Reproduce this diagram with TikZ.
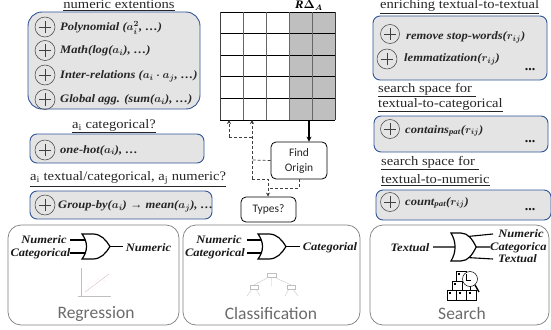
\documentclass[tikz,border=0pt]{standalone}
\usepackage{fontspec}
\setmainfont{Liberation Serif}
\newfontfamily\calfont{Carlito}
\newfontfamily\headfont[FakeStretch=1.12]{Liberation Serif}
\newfontfamily\opfont[FakeStretch=1.1]{Liberation Serif}
\usetikzlibrary{arrows.meta}
\definecolor{boxblue}{HTML}{2F5597}
\definecolor{boxgray}{HTML}{E4E4E4}
\definecolor{panelline}{HTML}{7F7F7F}
\definecolor{labelgray}{HTML}{6B6B6B}
\definecolor{headink}{HTML}{262626}
\newcommand{\mi}[1]{{\boldmath$#1$}}
\tikzset{
  x=1pt,y=-1pt,
  opbox/.style={draw=boxblue,line width=0.9pt,fill=boxgray,rounded corners=7pt,minimum width=0pt},
  bigbox/.style={draw=boxblue,line width=0.9pt,fill=boxgray,rounded corners=14pt},
  panel/.style={draw=panelline,line width=0.7pt,rounded corners=13pt},
  plus/.style={circle,draw=black!75,line width=0.5pt,fill=none,minimum size=#1,inner sep=0pt,path picture={
     \draw[black!75,line width=0.45pt] ([xshift=-0.62*#1/2]path picture bounding box.center)--([xshift=0.62*#1/2]path picture bounding box.center);
     \draw[black!75,line width=0.45pt] ([yshift=-0.62*#1/2]path picture bounding box.center)--([yshift=0.62*#1/2]path picture bounding box.center);}},
  optext/.style={anchor=west,inner sep=0pt,font=\opfont\fontsize{11.4}{12}\selectfont\bfseries\itshape,text=black!85},
  dotstext/.style={inner sep=0pt,font=\fontsize{14}{14}\selectfont\bfseries,text=black!90},
  headtext/.style={anchor=west,inner sep=0pt,font=\headfont\fontsize{13}{14}\selectfont,text=headink},
  gatetext/.style={inner sep=0pt,font=\opfont\fontsize{11.4}{12}\selectfont\bfseries\itshape,text=black!90},
  paneltitle/.style={inner sep=0pt,font=\calfont\fontsize{17.5}{20}\selectfont,text=labelgray},
  flowbox/.style={draw=black,line width=0.8pt,rounded corners=5pt,fill=white,align=center,inner sep=0pt,font=\calfont\fontsize{11.5}{15}\selectfont,text=black!85},
  solidflow/.style={draw=black,line width=1.5pt,-{Stealth[length=5pt,width=5pt]}},
  dashflow/.style={draw=black!75,line width=0.7pt,densely dashed},
  dasharrow/.style={dashflow,-{Stealth[length=4pt,width=4pt]}},
  wire/.style={draw=black,line width=1.1pt},
  faint/.style={draw=black!25,line width=0.3pt},
  orgate/.pic={
    \draw[black,line width=1.2pt,line join=miter]
      (0,0) -- (11,0) .. controls (19,0) and (24,6) .. (28,12.5)
      .. controls (24,19) and (19,25) .. (11,25) -- (0,25)
      .. controls (6,17) and (6,8) .. (0,0) -- cycle;
    \coordinate (-a) at (3,6);
    \coordinate (-b) at (3,19);
    \coordinate (-c) at (4.4,12.5);
    \coordinate (-o) at (28,12.5);
    \coordinate (-u) at (20,3);
    \coordinate (-l) at (20,22);
  }
}
\begin{document}
\begin{tikzpicture}
\useasboundingbox (0,0) rectangle (551,329);
% bottom panels
\draw[panel] (8,225) rectangle (179,325);
\draw[panel] (183,225) rectangle (360,325);
\draw[panel] (370,225) rectangle (549,325);
% headings
\node[headtext,anchor=center] (h1) at (119,5.5) {\underline{numeric extentions}};
\node[headtext,anchor=center] (h2) at (114,126) {\underline{a\textsubscript{i} categorical?}};
\node[headtext] (h3) at (30,179) {\underline{a\textsubscript{i} textual/categorical, a\textsubscript{j} numeric?}};
\node[headtext] (h4) at (380,6.5) {\underline{enriching textual-to-textual}};
\node[headtext] (h5) at (378,90) {\underline{search space for }};
\node[headtext] (h6) at (378,105) {\underline{textual-to-categorical}};
\node[headtext] (h7) at (381,163) {\underline{search space for }};
\node[headtext] (h8) at (381,180) {\underline{textual-to-numeric}};
% left boxes
\draw[bigbox] (28,12) rectangle (200,109);
\node[plus=20pt] (p1) at (45,27) {};
\node[plus=20pt] (p2) at (45,50.5) {};
\node[plus=20pt] (p3) at (45,75) {};
\node[plus=20pt] (p4) at (45,99.5) {};
\node[optext] (t1) at (60,28) {Polynomial (\mi{a_i^2}, …)};
\node[optext] (t2) at (60,51) {Math(log(\mi{a_i}), …)};
\node[optext] (t3) at (60,76) {Inter-relations (\mi{a_i\cdot a_j}, …)};
\node[optext] (t4) at (60,100) {Global agg. (sum(\mi{a_i}), …)};
\draw[opbox] (30,134) rectangle (204,163);
\node[plus=20pt] (p5) at (45,150) {};
\node[optext] (t5) at (60,150.5) {one-hot(\mi{a_i}), …};
\draw[opbox] (30,191) rectangle (212,219);
\node[plus=20pt] (p6) at (45,205) {};
\node[optext] (t6) at (58,206) {Group-by(\mi{a_i}) → mean(\mi{a_j}), …};
% right boxes
\draw[opbox] (373,16) rectangle (547,80);
\node[plus=19pt] (p7) at (390,34) {};
\node[plus=20pt] (p8) at (387,59) {};
\node[optext] (t7) at (406,37) {remove stop-words(\mi{r_{ij}})};
\node[optext] (t8) at (404,59.5) {lemmatization(\mi{r_{ij}})};
\node[dotstext] (d1) at (530,70) {...};
\draw[opbox] (374,116) rectangle (548,152);
\node[plus=19pt] (p9) at (390,129) {};
\node[optext] (t9) at (405,131) {contains\textsubscript{pat}(\mi{r_{ij}})};
\node[dotstext] (d2) at (530,142) {...};
\draw[opbox] (376,190) rectangle (551,220);
\node[plus=19pt] (p10) at (390,202) {};
\node[optext] (t10) at (405,203) {count\textsubscript{pat}(\mi{r_{ij}})};
\node[dotstext] (d3) at (530,210) {...};
% grid
\fill[black!25] (289,12) rectangle (335,120);
\draw[black,line width=0.8pt] (220,12) -- (335,12) (220,33.6) -- (335,33.6) (220,55.2) -- (335,55.2)
  (220,76.8) -- (335,76.8) (220,98.4) -- (335,98.4) (220,120) -- (335,120);
\draw[black!60,line width=1pt] (243,12) -- (243,120) (266,12) -- (266,120) (289,12) -- (289,120) (312,12) -- (312,120);
\draw[black!75,line width=0.9pt] (220,12) -- (220,120) (335,12) -- (335,120);
\node[inner sep=0pt,font=\opfont\fontsize{11.5}{12}\selectfont\bfseries\itshape] (rd) at (309,5) {R\mi{\Delta_A}};
% flow
\node[flowbox,minimum width=56pt,minimum height=37pt] (find) at (299,160.5) {Find\\Origin};
\node[flowbox,minimum width=55pt,minimum height=25pt] (types) at (268.5,209.5) {Types?};
\coordinate (gridout) at (309,120);
\coordinate (col1) at (229,120);
\coordinate (col2) at (252,120);
\coordinate (j1) at (229,137);
\coordinate (j2) at (252,137);
\coordinate (j3) at (252,160);
\coordinate (j4) at (252,179);
\coordinate (j5) at (268,179);
\coordinate (j6) at (268,188);
\coordinate (j7) at (299,188);
\draw[solidflow] (gridout) -- (find.north -| gridout);
\draw[dashflow] (find.west) -- (j3);
\draw[dasharrow] (j4) -- (col2);
\draw[dashflow] (j2) -- (j1);
\draw[dasharrow] (j1) -- (col1);
\draw[dasharrow] (j4) -- (j5) -- (types.north -| j5);
\draw[dashflow] (find.south -| j7) -- (j7) -- (j6);
% gate 1
\pic (g1) at (82,234) {orgate};
\coordinate (g1i1) at (70,240);
\coordinate (g1i2) at (70,253);
\coordinate (g1out) at (123,246.5);
\draw[wire] (g1i1) -- (g1-a);
\draw[wire] (g1i2) -- (g1-b);
\draw[wire] (g1-o) -- (g1out);
\node[gatetext] (gl1) at (44,239.5) {Numeric};
\node[gatetext] (gl2) at (40.5,253.5) {Categorical};
\node[gatetext] (gl3) at (148.5,247.5) {Numeric};
\node[paneltitle] (rt) at (96,313.5) {Regression};
% chart
\draw[faint] (81,268) -- (81,296) (78,296) -- (111,296);
\draw[draw=red!40!black!30,line width=0.3pt] (85,292) -- (109,274);
\foreach \px/\py in {88/286,98/279,104/281} \fill[black!35] (\px,\py) circle (0.4pt);
% gate 2
\pic (g2) at (258,234) {orgate};
\coordinate (g2i1) at (247,240);
\coordinate (g2i2) at (247,253);
\coordinate (g2out) at (300,246.5);
\draw[wire] (g2i1) -- (g2-a);
\draw[wire] (g2i2) -- (g2-b);
\draw[wire] (g2-o) -- (g2out);
\node[gatetext] (gl4) at (219,239.5) {Numeric};
\node[gatetext] (gl5) at (215,253.5) {Categorical};
\node[gatetext] (gl6) at (330,248) {Categorial};
\node[paneltitle] (ct) at (271,313.5) {Classification};
% tree
\draw[faint] (267,273) rectangle (276,277) (250,285) rectangle (258,289) (287,285) rectangle (295,289);
\draw[faint] (269,277) -- (254,285) (274,277) -- (291,285) (271.5,277) -- (271.5,286)
  (252,289) -- (247,296) (256,289) -- (260,296) (289,289) -- (285,296) (293,289) -- (298,296);
% gate 3
\pic[xscale=0.9,yscale=1.12] (g3) at (451,233) {orgate};
\coordinate (g3i) at (433,247);
\coordinate (g3o1) at (493,234);
\coordinate (g3o2) at (490,247);
\coordinate (g3o3) at (493,259);
\draw[wire] (g3i) -- (g3-c);
\draw[wire] (g3-o) -- (g3o2);
\draw[wire] (g3-u) -- (g3o1);
\draw[wire] (g3-l) -- (g3o3);
\node[gatetext] (gl7) at (410,247.5) {Textual};
\node[gatetext] (gl8) at (521,234) {Numeric};
\node[gatetext,anchor=west] (gl9) at (490,247.5) {Categorica};
\node[gatetext] (gl10) at (517.5,259) {Textual};
\node[paneltitle] (st) at (462,313.5) {Search};
% search icon
\draw[black,line width=0.5pt] (447,290) rectangle (456,300) (456,290) rectangle (466,300) (466,290) rectangle (476,300)
  (452,281) rectangle (462,290) (462,281) rectangle (470,290) (456,271) rectangle (466,281);
\foreach \px/\py in {449/292,459/292,469/292,454/283,458/273} \fill[black] (\px,\py) rectangle (\px+1.5,\py+1.5);
\fill[white] (470,279) circle (7.5pt);
\draw[black,line width=0.5pt] (470,279) circle (7.5pt);
\draw[black,line width=0.5pt] (466,274) -- (466,280) -- (471,280);
\draw[black,line width=1.4pt] (475,285) -- (479,292);
\end{tikzpicture}
\end{document}
